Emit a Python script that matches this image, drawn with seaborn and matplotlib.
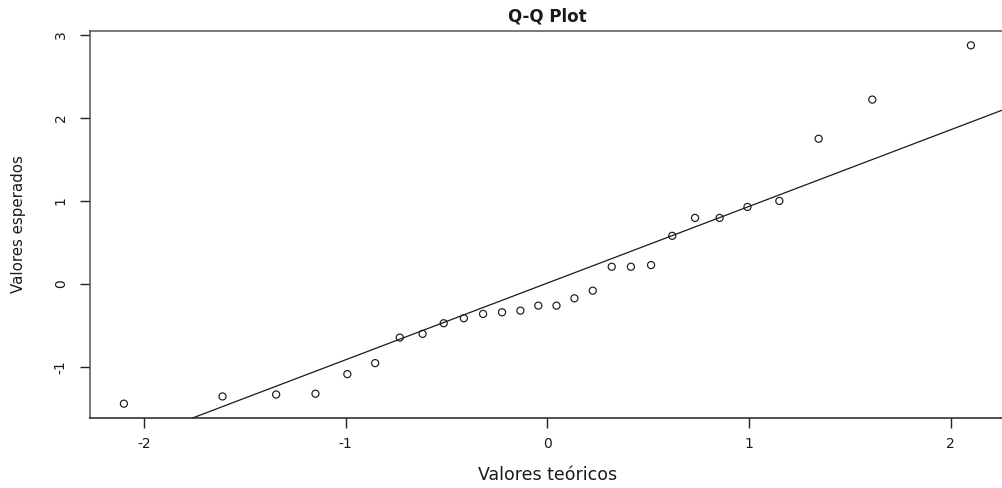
import numpy as np
import pandas as pd
import matplotlib
matplotlib.use("Agg")
import matplotlib.pyplot as plt
import seaborn as sns

# Theoretical normal quantiles (x) and sorted sample values (y)
teoricos = [-2.100, -1.611, -1.345, -1.150, -0.992, -0.854, -0.732, -0.619,
            -0.514, -0.414, -0.319, -0.225, -0.134, -0.045,
            0.045, 0.134, 0.225, 0.319, 0.414, 0.514, 0.619, 0.732,
            0.854, 0.992, 1.150, 1.345, 1.611, 2.100]
esperados = [-1.44, -1.353, -1.33, -1.32, -1.084, -0.952, -0.644, -0.60,
             -0.472, -0.412, -0.36, -0.34, -0.32, -0.26, -0.26, -0.172,
             -0.08, 0.208, 0.208, 0.228, 0.58, 0.796, 0.796, 0.928,
             1.0, 1.749, 2.22, 2.873]
x_ticks = [-2, -1, 0, 1, 2]
y_ticks = [-1, 0, 1, 2, 3]

df = pd.DataFrame({"teo": teoricos, "esp": esperados})

sns.set_theme(style="white")
plt.rcParams["font.family"] = ["DejaVu Sans"]

fig = plt.figure(figsize=(10.03, 4.88), dpi=100)
W, H = 1003, 488
ax_w, ax_h = 1004.8 - 90, 418 - 31
ax = fig.add_axes([90 / W, 70 / H, ax_w / W, ax_h / H])

sns.scatterplot(data=df, x="teo", y="esp", ax=ax, marker="o",
                facecolor="none", edgecolor="#1a1a1a", linewidth=0.85,
                s=26, zorder=3)

# Reference line through the first and third quartiles
q1, q3 = np.percentile(esperados, [25, 75])
z = 0.6744898
slope = (q3 - q1) / (2 * z)
intercept = q1 + slope * z
ax.axline((0, intercept), slope=slope, color="#1a1a1a", linewidth=0.9)

# Axis ranges padded by 4% as in base graphics
def padded(v):
    lo, hi = min(v), max(v)
    d = (hi - lo) * 0.04
    return lo - d, hi + d

ax.set_xlim(*padded(teoricos))
ax.set_ylim(*padded(esperados))
ax.set_xticks(x_ticks)
ax.set_yticks(y_ticks)
ax.set_xticklabels([str(v) for v in x_ticks])
ax.set_yticklabels([str(v) for v in y_ticks], rotation=90, va="center")

ax.tick_params(axis="both", which="major", direction="out", length=7,
               width=1, color="#222222", labelsize=10, labelcolor="#1a1a1a",
               bottom=True, left=True)
ax.tick_params(axis="x", pad=7)
ax.tick_params(axis="y", pad=9)

for side in ["left", "top", "bottom", "right"]:
    ax.spines[side].set_color("#555555")
    ax.spines[side].set_linewidth(1.1)
ax.spines["bottom"].set_color("#222222")

ax.set_xlabel("Valores teóricos", fontsize=12.5, color="#1a1a1a", va="center")
ax.xaxis.set_label_coords(0.5, -(475 - 418) / ax_h)
ax.set_ylabel("Valores esperados", fontsize=10.8, color="#1a1a1a", va="center")
ax.yaxis.set_label_coords(-(90 - 18.5) / ax_w, 0.5)
ax.set_title("Q-Q Plot", fontsize=12, fontweight="bold", color="#1a1a1a",
             y=1 + (31 - 16) / ax_h, va="center", pad=0)

fig.savefig("out.png", dpi=100, facecolor="white")
